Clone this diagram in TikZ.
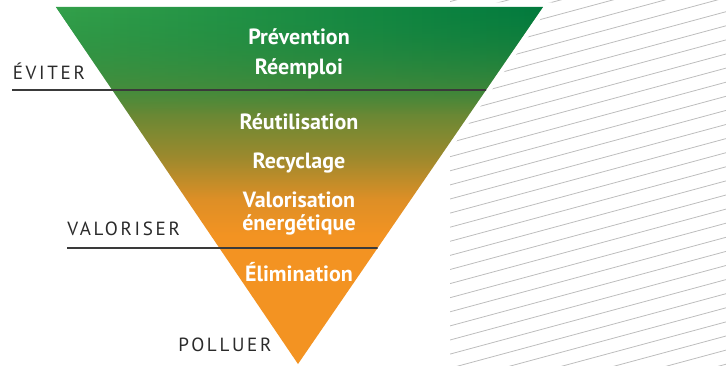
\documentclass[tikz,border=0pt]{standalone}
\usepackage{fontspec}
\setmainfont{PT Sans}
\newfontfamily\sidefont[LetterSpace=14]{PT Sans}
\usetikzlibrary{calc, fadings}

\definecolor{topgreen}{HTML}{19873F}
\definecolor{leftgreen}{HTML}{34A04A}
\definecolor{rightgreen}{HTML}{027A3D}
\definecolor{mossgreen}{HTML}{4F8838}
\definecolor{olive}{HTML}{9C892D}
\definecolor{amber}{HTML}{DE8F26}
\definecolor{wasteorange}{HTML}{F39322}
\definecolor{labelgray}{HTML}{2A2A2A}
\definecolor{linegray}{HTML}{3A3A3A}
\definecolor{hatchgray}{HTML}{BDBDBD}

\pgfdeclareverticalshading{wasteshade}{100bp}{color(0bp)=(wasteorange); color(43bp)=(wasteorange); color(48bp)=(amber); color(54bp)=(olive); color(63bp)=(mossgreen); color(75bp)=(topgreen); color(100bp)=(topgreen)}
\tikzfading[name=fadedown, top color=transparent!0, bottom color=transparent!100]

\tikzstyle{level} = [text=white, font=\bfseries\fontsize{16.5}{18}\selectfont, text height=11.5pt, text depth=3.5pt, inner sep=0pt]
\tikzstyle{side} = [text=labelgray, font=\sidefont\fontsize{14.3}{16}\selectfont, anchor=base west, inner sep=0pt]
\tikzstyle{divider} = [line width=1.2pt, draw=linegray]
\tikzstyle{hatch} = [line width=0.6pt, draw=hatchgray]

\begin{document}
\begin{tikzpicture}[x=0.75pt, y=-0.75pt]
\useasboundingbox (0,0) rectangle (726,365);
\coordinate (tl) at (56,7);
\coordinate (tr) at (543,7);
\coordinate (apex) at (298,364);

% hatched band on the right
\begin{scope}
  \clip (450,0) rectangle (726,365);
  \foreach \k in {0,...,31}
    \draw [hatch] (450,1.6+14.1*\k) -- ++(276,-74.5);
\end{scope}

% the pyramid
\draw [white, line width=7pt] (tl) -- (tr) -- (apex) -- cycle;
\shade [shading=wasteshade] (tl) -- (tr) -- (apex) -- cycle;
\shade [left color=leftgreen, right color=rightgreen, path fading=fadedown]
  (tl) -- (tr) -- ($(tr)!0.3!(apex)$) -- ($(tl)!0.3!(apex)$) -- cycle;

% dividers
\coordinate (avoidL) at (12,90);
\coordinate (avoidR) at ($(tr)!0.2325!(apex)$);
\coordinate (recoverL) at (67,248);
\coordinate (recoverR) at ($(tr)!0.675!(apex)$);
\draw [divider] (avoidL) -- (avoidR);
\draw [divider] (recoverL) -- (recoverR);

\node (avoid) [side] at (12.5,79) {ÉVITER};
\node (recover) [side] at (67,235) {VALORISER};
\node (pollute) [side] at (178,351.7) {POLLUER};

\node (prev) [level] at (299,38.7) {Prévention};
\node (reemp) [level, below of=prev, node distance=22.5pt] {Réemploi};
\node (reut) [level, below of=reemp, node distance=41.5pt] {Réutilisation};
\node (recyc) [level, below of=reut, node distance=29.25pt] {Recyclage};
\node (valo) [level, below of=recyc, node distance=29.25pt] {Valorisation};
\node (energ) [level, below of=valo, node distance=17pt] {énergétique};
\node (elim) [level, below of=energ, node distance=38.8pt] {Élimination};
\end{tikzpicture}
\end{document}
